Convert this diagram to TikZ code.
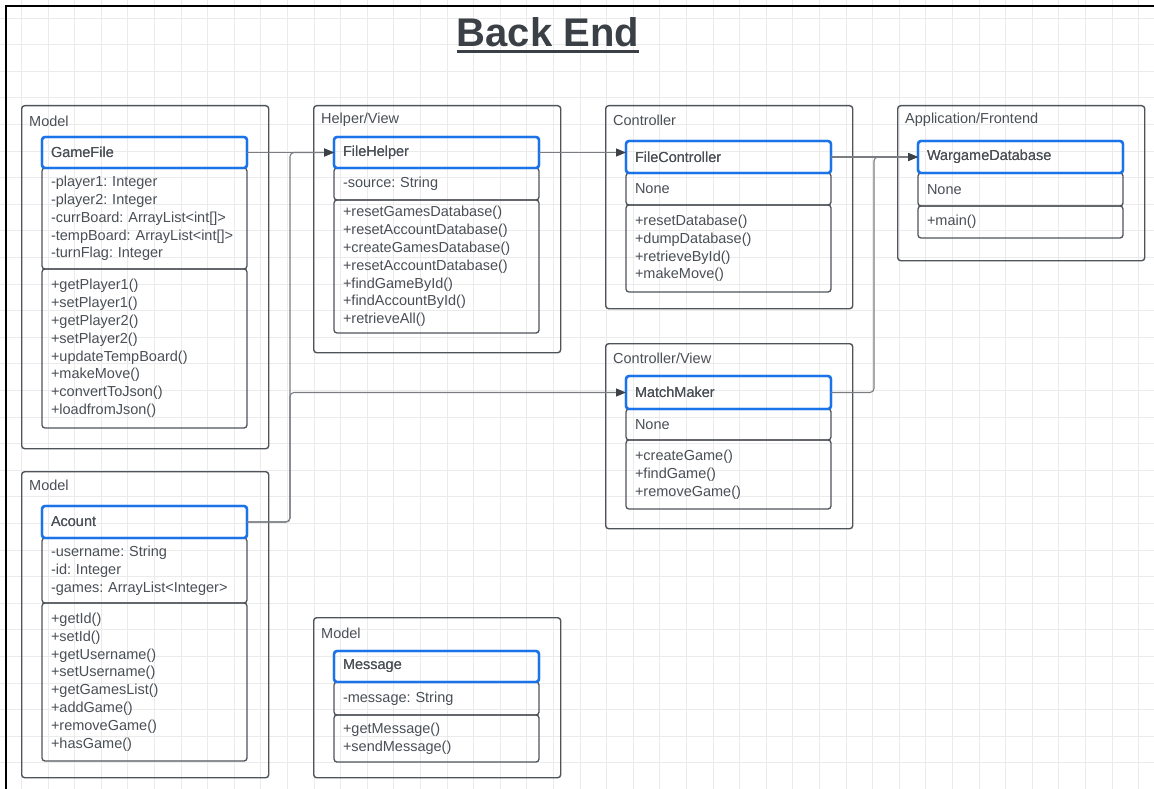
\documentclass[tikz,border=0pt]{standalone}
\usepackage{fontspec}
\setmainfont{Liberation Sans}
\usetikzlibrary{positioning}
\usetikzlibrary{arrows.meta}
\frenchspacing

\definecolor{ink}{HTML}{4A4F55}
\definecolor{titleink}{HTML}{3A4046}
\definecolor{boxline}{HTML}{4F545A}
\definecolor{umlblue}{HTML}{1A73E8}
\definecolor{wire}{HTML}{7A7E83}
\definecolor{tip}{HTML}{3C4248}
\definecolor{gridgray}{HTML}{EBEBEB}

\begin{document}
\begin{tikzpicture}[x=1pt, y=-1pt,
			font=\fontsize{14.5}{17.8}\selectfont, text=ink,
			group/.style={draw=boxline, line width=1.4pt, rounded corners=3pt, anchor=north west, minimum width=247pt, inner sep=0pt},
			grouplbl/.style={anchor=west, inner sep=0pt},
			part/.style={draw=boxline, line width=1.3pt, rounded corners=3pt, text width=187pt, inner xsep=9pt, inner ysep=0pt, outer sep=0pt, align=left},
			head/.style={part, draw=umlblue, line width=2.3pt, anchor=north west},
			wire/.style={draw=wire, line width=1.1pt, rounded corners=4pt, -{Triangle[length=10pt, width=8pt, color=tip]}}]
			\useasboundingbox (0,0) rectangle (1154,789);
			\clip (0,0) rectangle (1154,789);
			\fill[white] (0,0) rectangle (1154,789);
			% grid paper
			\foreach \gx in {0,...,43}
				\draw[gridgray, line width=0.8pt] ({21.4+26.6*\gx},0) -- ++(0,789);
			\foreach \gy in {0,...,29}
				\draw[gridgray, line width=0.8pt] (0,{18+26.6*\gy}) -- ++(1154,0);
			\draw[black, line width=2.2pt] (6,800) -- (6,6) -- (1160,6);

			\node[anchor=base, inner sep=0pt, text=titleink, font=\fontsize{40}{48}\selectfont\bfseries] (title) at (548,47) {Back End};
			\draw[titleink, line width=3pt] ([yshift=-4.5pt]title.base west) -- ([yshift=-4.5pt]title.base east);

			% containers
			\node[group, minimum height=343pt] (gamebox) at (21,105) {};
			\node[grouplbl] (gamelbl) at (29,121) {Model};
			\node[group, minimum height=247pt] (helperbox) at (313,105) {};
			\node[grouplbl] (helperlbl) at (321,120) {Helper/View};
			\node[group, minimum height=203pt] (ctrlbox) at (605,105) {};
			\node[grouplbl] (ctrllbl) at (613,120) {Controller};
			\node[group, minimum height=155pt] (appbox) at (897,105) {};
			\node[grouplbl] (applbl) at (905,120) {Application/Frontend};
			\node[group, minimum height=185pt] (matchbox) at (605,343) {};
			\node[grouplbl] (matchlbl) at (613,358) {Controller/View};
			\node[group, minimum height=306pt] (accbox) at (21,471) {};
			\node[grouplbl] (acclbl) at (29,485) {Model};
			\node[group, minimum height=160pt] (msgbox) at (313,617) {};
			\node[grouplbl] (msglbl) at (321,633) {Model};

			% GameFile
			\node[head, minimum height=31pt] (gamefile) at (42,137) {GameFile};
			\node[part, below=0pt of gamefile, minimum height=101pt] (gameattr) {-player1: Integer\\-player2: Integer\\-currBoard: ArrayList<int[]>\\-tempBoard: ArrayList<int[]>\\-turnFlag: Integer};
			\node[part, below=0pt of gameattr, minimum height=159pt] (gameops) {+getPlayer1()\\+setPlayer1()\\+getPlayer2()\\+setPlayer2()\\+updateTempBoard()\\+makeMove()\\+convertToJson()\\+loadfromJson()};
			\node[head, minimum height=31pt] (gamefile) at (42,137) {GameFile};

			% FileHelper
			\node[head, minimum height=31pt] (filehelper) at (334,137) {FileHelper};
			\node[part, below=0pt of filehelper, minimum height=32pt] (helperattr) {-source: String};
			\node[part, below=0pt of helperattr, minimum height=133pt] (helperops) {+resetGamesDatabase()\\+resetAccountDatabase()\\+createGamesDatabase()\\+resetAccountDatabase()\\+findGameById()\\+findAccountById()\\+retrieveAll()};
			\node[head, minimum height=31pt] (filehelper) at (334,137) {FileHelper};

			% FileController
			\node[head, minimum height=32pt] (filectrl) at (626,141) {FileController};
			\node[part, below=0pt of filectrl, minimum height=32pt] (ctrlattr) {None};
			\node[part, below=0pt of ctrlattr, minimum height=87pt] (ctrlops) {+resetDatabase()\\+dumpDatabase()\\+retrieveById()\\+makeMove()};
			\node[head, minimum height=32pt] (filectrl) at (626,141) {FileController};

			% WargameDatabase
			\node[head, minimum height=32pt] (wargame) at (918,141) {WargameDatabase};
			\node[part, below=0pt of wargame, minimum height=33pt] (warattr) {None};
			\node[part, below=0pt of warattr, minimum height=32pt] (warops) {+main()};
			\node[head, minimum height=32pt] (wargame) at (918,141) {WargameDatabase};

			% MatchMaker
			\node[head, minimum height=33pt] (matchmaker) at (626,376) {MatchMaker};
			\node[part, below=0pt of matchmaker, minimum height=31pt] (matchattr) {None};
			\node[part, below=0pt of matchattr, minimum height=69pt] (matchops) {+createGame()\\+findGame()\\+removeGame()};
			\node[head, minimum height=33pt] (matchmaker) at (626,376) {MatchMaker};

			% Acount
			\node[head, minimum height=32pt] (account) at (42,506) {Acount};
			\node[part, below=0pt of account, minimum height=65pt] (accattr) {-username: String\\-id: Integer\\-games: ArrayList<Integer>};
			\node[part, below=0pt of accattr, minimum height=158pt] (accops) {+getId()\\+setId()\\+getUsername()\\+setUsername()\\+getGamesList()\\+addGame()\\+removeGame()\\+hasGame()};
			\node[head, minimum height=32pt] (account) at (42,506) {Acount};

			% Message
			\node[head, minimum height=31pt] (message) at (334,651) {Message};
			\node[part, below=0pt of message, minimum height=33pt] (msgattr) {-message: String};
			\node[part, below=0pt of msgattr, minimum height=47pt] (msgops) {+getMessage()\\+sendMessage()};
			\node[head, minimum height=31pt] (message) at (334,651) {Message};

			% connectors
			\path[wire] (gamefile.east) -- (filehelper.west);
			\path[wire] (account.east) -- ++(43,0) |- (filehelper.west);
			\path[wire] (account.east) -- ++(43,0) |- (matchmaker.west);
			\path[wire] (filehelper.east) -- (filehelper.east -| filectrl.west);
			\path[wire] (filectrl.east) -- (wargame.west);
			\path[wire] (matchmaker.east) -- ++(43,0) |- (wargame.west);
	\end{tikzpicture}
\end{document}
